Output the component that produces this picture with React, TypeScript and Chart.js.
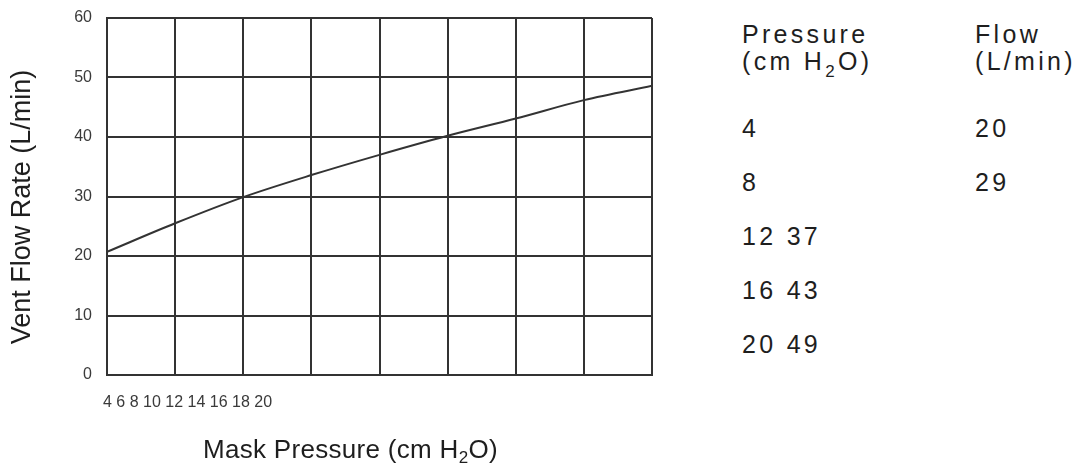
import { useEffect, useRef } from "react"
import { Chart, registerables } from "chart.js"

Chart.register(...registerables)

// curve
const maskPressure = [4, 6, 8, 10, 12, 14, 16, 18, 20]
const ventFlow = [20.7, 25.5, 29.9, 33.6, 37.0, 40.2, 43.1, 46.2, 48.6]

const xTickLabels = [4, 6, 8, 10, 12, 14, 16, 18, 20]
const yTickValues = [0, 10, 20, 30, 40, 50, 60]

// table at the right
const tablePressure = [4, 8, 12, 16, 20]
const tableFlow = [20, 29, 37, 43, 49]
const flowColumnRows = 2 // after this row the flow value slips into the pressure column

const FONT = "'Liberation Sans', Arial, Helvetica, sans-serif"
const LINE = "#333333"

export default function App() {
  const chartRef = useRef<HTMLCanvasElement>(null)
  const chartInstance = useRef<Chart | null>(null)

  useEffect(() => {
    if (!chartRef.current) return
    const ctx = chartRef.current.getContext("2d")
    if (!ctx) return

    chartInstance.current = new Chart(ctx, {
      type: "line",
      data: {
        datasets: [
          {
            label: "Vent Flow Rate",
            data: maskPressure.map((p, i) => ({ x: p, y: ventFlow[i] })),
            borderColor: "#333333",
            borderWidth: 2,
            pointRadius: 0,
            cubicInterpolationMode: "monotone",
            fill: false,
          },
        ],
      },
      options: {
        responsive: true,
        maintainAspectRatio: false,
        animation: false,
        layout: { padding: { top: 18, right: 8, left: 0, bottom: 0 } },
        plugins: {
          legend: { display: false },
          tooltip: { enabled: false },
        },
        scales: {
          x: {
            type: "linear",
            min: xTickLabels[0],
            max: xTickLabels[xTickLabels.length - 1],
            ticks: { stepSize: 2, display: false },
            grid: { color: LINE, lineWidth: 2, drawTicks: false },
            border: { color: LINE, width: 2 },
            afterFit: (scale) => {
              scale.height = 95
              scale.paddingLeft = 0
              scale.paddingRight = 0
            },
          },
          y: {
            min: yTickValues[0],
            max: yTickValues[yTickValues.length - 1],
            ticks: {
              stepSize: 10,
              color: "#3a3a3a",
              padding: 15,
              font: { family: FONT, size: 16 },
            },
            grid: { color: LINE, lineWidth: 2, drawTicks: false },
            border: { color: LINE, width: 2 },
            afterFit: (scale) => {
              scale.width = 107
              scale.paddingTop = 0
              scale.paddingBottom = 0
            },
          },
        },
      },
    })

    return () => {
      if (chartInstance.current) {
        chartInstance.current.destroy()
      }
    }
  }, [])

  const tableText = {
    position: "absolute" as const,
    fontFamily: FONT,
    fontSize: 25,
    letterSpacing: "3.3px",
    color: "#1e1e1e",
    whiteSpace: "nowrap" as const,
  }

  return (
    <div
      style={{
        position: "absolute",
        left: 0,
        top: 0,
        width: 1084,
        height: 470,
        background: "#ffffff",
        overflow: "hidden",
      }}
    >
      <div style={{ position: "absolute", left: 0, top: 0, width: 660, height: 470 }}>
        <canvas ref={chartRef} />
      </div>

      {/* y axis title */}
      <div
        style={{
          position: "absolute",
          left: 21 - 160,
          top: 207 - 13,
          width: 320,
          height: 26,
          lineHeight: "26px",
          textAlign: "center",
          transform: "rotate(-90deg)",
          transformOrigin: "center",
          fontFamily: FONT,
          fontSize: 27,
          color: "#1e1e1e",
          whiteSpace: "nowrap",
        }}
      >
        Vent Flow Rate (L/min)
      </div>

      {/* x tick labels, crammed as in the source */}
      <div
        style={{
          position: "absolute",
          left: 103,
          top: 394,
          lineHeight: "16px",
          fontFamily: FONT,
          fontSize: 16,
          color: "#3a3a3a",
          whiteSpace: "nowrap",
        }}
      >
        {xTickLabels.join(" ")}
      </div>

      {/* x axis title */}
      <div
        style={{
          position: "absolute",
          left: 203,
          top: 436,
          lineHeight: "26px",
          fontFamily: FONT,
          fontSize: 26,
          letterSpacing: "0.3px",
          color: "#1e1e1e",
          whiteSpace: "nowrap",
        }}
      >
        Mask Pressure (cm H
        <span style={{ fontSize: 17, position: "relative", top: 5 }}>2</span>O)
      </div>

      {/* table headers */}
      <div style={{ ...tableText, left: 742, top: 21, lineHeight: "27px" }}>
        Pressure
        <br />
        (cm H<span style={{ fontSize: 17, position: "relative", top: 7 }}>2</span>O)
      </div>
      <div style={{ ...tableText, left: 975, top: 21, lineHeight: "27px" }}>
        Flow
        <br />
        (L/min)
      </div>

      {/* table rows */}
      <div style={{ ...tableText, left: 742, top: 101, lineHeight: "54px" }}>
        {tablePressure.map((p, i) => (
          <div key={p}>{i < flowColumnRows ? `${p}` : `${p} ${tableFlow[i]}`}</div>
        ))}
      </div>
      <div style={{ ...tableText, left: 975, top: 101, lineHeight: "54px" }}>
        {tableFlow.slice(0, flowColumnRows).map((f) => (
          <div key={f}>{f}</div>
        ))}
      </div>
    </div>
  )
}
